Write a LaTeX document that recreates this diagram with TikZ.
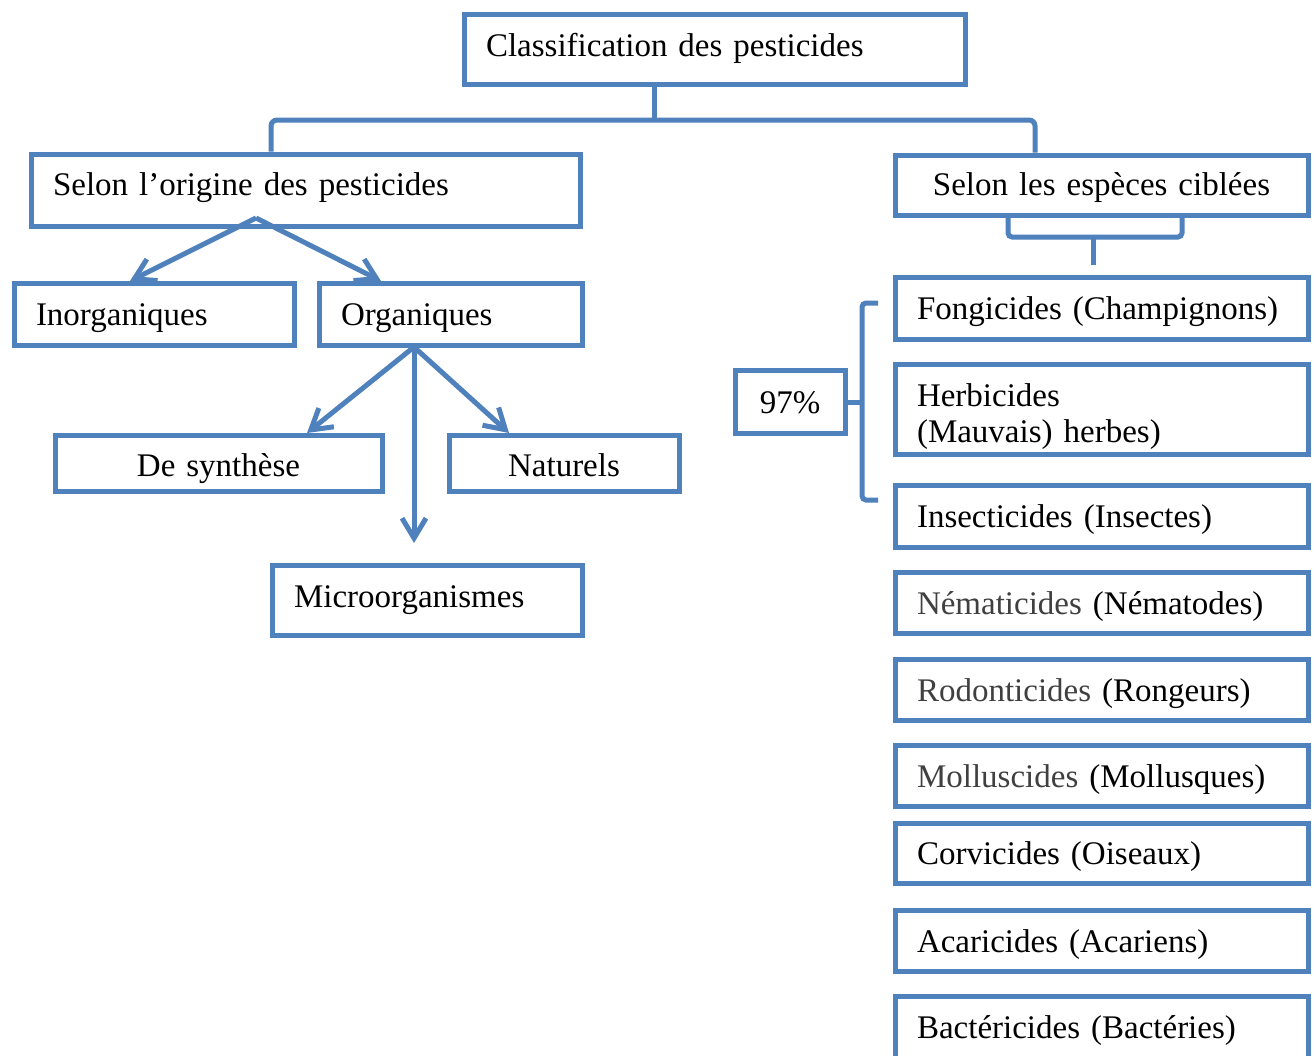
\documentclass[tikz,border=0pt]{standalone}
\usepackage{fontspec}
\setmainfont{Liberation Serif}
\usetikzlibrary{arrows.meta}
\definecolor{blu}{HTML}{4F81BD}
\definecolor{dgray}{HTML}{404040}
\tikzset{
  box/.style={draw=blu, line width=5pt, fill=white, inner xsep=22pt, inner ysep=0pt,
    font=\fontsize{33}{36}\selectfont, text=black},
  sbox/.style={box, text height=26pt, text depth=3pt},
  lbox/.style={sbox, align=left},
  conn/.style={draw=blu, line width=5pt},
  arr/.style={conn, -{Straight Barb[length=20pt,width=24pt,line width=5pt]}},
}
\begin{document}
\begin{tikzpicture}[x=1pt,y=-1pt]
\useasboundingbox (0,0) rectangle (1314,1055);
\clip (0,0) rectangle (1314,1055);
\fill[white] (0,0) rectangle (1314,1055);

% top level
\node[lbox, minimum width=501pt, minimum height=70pt, text width=457pt, text depth=12pt] (title) at (714.5,49) {Classification des pesticides};
\node[lbox, minimum width=549pt, minimum height=72pt, text width=505pt, text depth=16pt] (leftcat) at (305.5,190) {Selon l’origine des pesticides};
\node[sbox, align=center, minimum width=413pt, minimum height=60pt, text width=369pt, text depth=6pt] (rightcat) at (1101.5,185) {Selon les espèces ciblées};

% left branch
\node[lbox, minimum width=280pt, minimum height=62pt, text width=236pt] (inorg) at (154,314) {Inorganiques};
\node[lbox, minimum width=263pt, minimum height=62pt, text width=219pt] (organ) at (450.5,314) {Organiques};
\node[sbox, align=center, minimum width=327pt, minimum height=56pt, text width=283pt, text depth=0pt] (desyn) at (218.5,463) {De synthèse};
\node[sbox, align=center, minimum width=230pt, minimum height=56pt, text width=186pt, text depth=0pt] (natur) at (564,463) {Naturels};
\node[lbox, minimum width=310pt, minimum height=70pt, text width=266pt, text depth=12pt] (micro) at (427,600) {Microorganismes};

% right branch
\node[sbox, align=center, minimum width=110pt, minimum height=63pt, text width=90pt, inner xsep=10pt] (p97) at (790,401.5) {97\%};
\node[lbox, minimum width=413pt, minimum height=62pt, text width=369pt] (fong) at (1101.5,308) {Fongicides (Champignons)};
\node[lbox, minimum width=413pt, minimum height=90pt, text width=369pt, text depth=32pt] (herb) at (1101.5,409) {Herbicides\\(Mauvais) herbes)};
\node[lbox, minimum width=413pt, minimum height=62pt, text width=369pt] (insect) at (1101.5,516) {Insecticides (Insectes)};
\node[lbox, minimum width=413pt, minimum height=61pt, text width=369pt] (nemat) at (1101.5,602.5) {\textcolor{dgray}{Nématicides} (Nématodes)};
\node[lbox, minimum width=413pt, minimum height=61pt, text width=369pt] (rodon) at (1101.5,689.5) {\textcolor{dgray}{Rodonticides} (Rongeurs)};
\node[lbox, minimum width=413pt, minimum height=61pt, text width=369pt] (mollu) at (1101.5,775.5) {\textcolor{dgray}{Molluscides} (Mollusques)};
\node[lbox, minimum width=413pt, minimum height=60pt, text width=369pt] (corvi) at (1101.5,853) {Corvicides (Oiseaux)};
\node[lbox, minimum width=413pt, minimum height=61pt, text width=369pt] (acari) at (1101.5,940.5) {Acaricides (Acariens)};
\node[lbox, minimum width=413pt, minimum height=62pt, text width=369pt] (bacte) at (1101.5,1027) {Bactéricides (Bactéries)};

% top brace
\coordinate (bl) at (271,120);
\coordinate (bm) at (654,120);
\coordinate (br) at (1035,120);
\draw[conn, rounded corners=6pt] (bl |- leftcat.north) -- (bl) -- (br) -- (br |- rightcat.north);
\draw[conn] (bm |- title.south) -- (bm);

% brace under "Selon les espèces ciblées"
\coordinate (rl) at (1008,237);
\coordinate (rm) at (1093,237);
\coordinate (rr) at (1182,237);
\coordinate (rt) at (1093,265);
\draw[conn, rounded corners=4pt] (rl |- rightcat.south) -- (rl) -- (rr) -- (rr |- rightcat.south);
\draw[conn] (rm) -- (rt);

% 97% brace
\coordinate (kt) at (862,303);
\coordinate (kb) at (862,500);
\coordinate (km) at (862,402);
\draw[conn, rounded corners=4pt] (878,303) -- (kt) -- (kb) -- (878,500);
\draw[conn] (p97.east |- km) -- (km);

% arrows from "Selon l'origine"
\coordinate (apex) at (256,218);
\coordinate (ti) at (130,281);
\coordinate (to) at (381,281);
\draw[arr] (apex) -- (ti);
\draw[arr] (apex) -- (to);

% arrows from "Organiques"
\coordinate (oapex) at (414,347);
\coordinate (tds) at (307,433);
\coordinate (tna) at (509,433);
\coordinate (tmi) at (414,543);
\draw[arr] (oapex) -- (tds);
\draw[arr] (oapex) -- (tna);
\draw[arr] (oapex) -- (tmi);
\end{tikzpicture}
\end{document}
